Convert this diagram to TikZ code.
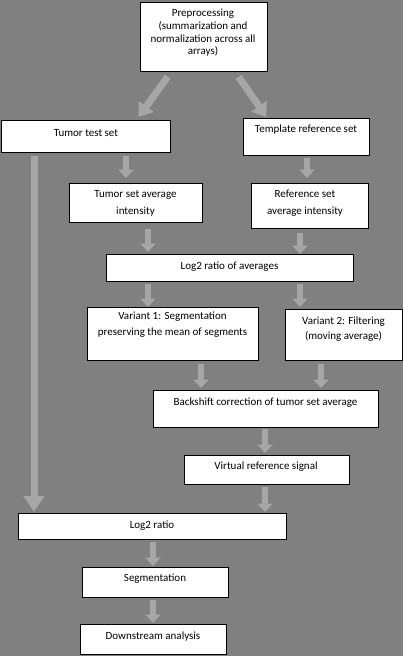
\documentclass[tikz,border=0pt]{standalone}
\usepackage{fontspec}
\setmainfont{Carlito}
\usetikzlibrary{arrows.meta}
\definecolor{bgc}{RGB}{128,128,128}
\definecolor{arrowc}{RGB}{166,166,166}
\begin{document}
\begin{tikzpicture}[x=1pt,y=-1pt,
 box/.style={draw=black, line width=0.8pt, fill=white, inner sep=0pt, anchor=north west},
 txt/.style={align=center, inner sep=0pt, font=\fontsize{11}{13}\selectfont},
 flow/.style={draw=arrowc, line width=6.5pt, -{Triangle[width=15pt,length=8.5pt]}},
 bigflow/.style={draw=arrowc, line width=7pt, -{Triangle[width=20pt,length=16pt]}},
 diagflow/.style={draw=arrowc, line width=7pt, -{Triangle[width=18pt,length=13pt]}}]
\fill[bgc] (0,0) rectangle (403,656);
\useasboundingbox (0,0) rectangle (403,656);
% boxes
\node[box, minimum width=126.5pt, minimum height=69pt] (pre) at (140,2) {};
\node[box, minimum width=169.5pt, minimum height=32pt] (tts) at (0.5,120) {};
\node[box, minimum width=126pt, minimum height=37pt] (tpl) at (243,118) {};
\node[box, minimum width=133pt, minimum height=39pt] (tavg) at (69,183) {};
\node[box, minimum width=117pt, minimum height=45pt] (ravg) at (251,183) {};
\node[box, minimum width=247pt, minimum height=27pt] (lavg) at (106,254) {};
\node[box, minimum width=171pt, minimum height=53pt] (vone) at (87,307) {};
\node[box, minimum width=117pt, minimum height=51pt] (vtwo) at (285,309) {};
\node[box, minimum width=225pt, minimum height=37pt] (back) at (153,390) {};
\node[box, minimum width=165pt, minimum height=29pt] (virt) at (184,455) {};
\node[box, minimum width=268pt, minimum height=26pt] (lr) at (18,513) {};
\node[box, minimum width=146pt, minimum height=30pt] (seg) at (82,567) {};
\node[box, minimum width=146pt, minimum height=30pt] (down) at (80,624) {};
% texts
\node[txt, font=\fontsize{11}{12.7}\selectfont] (preT) at (203,33) {Preprocessing\\(summarization and\\normalization across all\\arrays)};
\node[txt] (ttsT) at (86,133.5) {Tumor test set};
\node[txt] (tplT) at (306,130) {Template reference set};
\node[txt, font=\fontsize{11}{16.7}\selectfont] (tavgT) at (135.5,203.5) {Tumor set average\\intensity};
\node[txt, font=\fontsize{11}{17.5}\selectfont] (ravgT) at (305,203) {Reference set\\average intensity};
\node[txt] (lavgT) at (229.5,267) {Log2 ratio of averages};
\node[txt, font=\fontsize{11}{16}\selectfont] (voneT) at (172.5,325) {Variant 1: Segmentation\\preserving the mean of segments};
\node[txt, font=\fontsize{11}{15}\selectfont] (vtwoT) at (343.5,328.7) {Variant 2: Filtering\\(moving average)};
\node[txt] (backT) at (265.5,402.7) {Backshift correction of tumor set average};
\node[txt] (virtT) at (266,466.7) {Virtual reference signal};
\node[txt] (lrT) at (152,525.7) {Log2 ratio};
\node[txt] (segT) at (155,579) {Segmentation};
\node[txt] (downT) at (153,636.7) {Downstream analysis};
% arrow columns
\coordinate (cA) at (34,0);
\coordinate (cB) at (126,0);
\coordinate (cC) at (307,0);
\coordinate (cD) at (148,0);
\coordinate (cE) at (300,0);
\coordinate (cF) at (201,0);
\coordinate (cG) at (321,0);
\coordinate (cH) at (265,0);
\coordinate (cI) at (153,0);
% arrows
\draw[diagflow] ([xshift=-36pt,yshift=-5pt]pre.south) -- ([xshift=53pt,yshift=3pt]tts.north);
\draw[diagflow] ([xshift=35pt,yshift=-5pt]pre.south) -- ([xshift=-40pt,yshift=1pt]tpl.north);
\draw[bigflow, shorten <=3pt, shorten >=1pt] (tts.south -| cA) -- (lr.north -| cA);
\draw[flow, shorten <=3pt, shorten >=5pt] (tts.south -| cB) -- (tavg.north -| cB);
\draw[flow, shorten <=2pt, shorten >=5pt] (tpl.south -| cC) -- (ravg.north -| cC);
\draw[flow, shorten <=6pt, shorten >=2pt] (tavg.south -| cD) -- (lavg.north -| cD);
\draw[flow, shorten <=4pt, shorten >=0pt] (ravg.south -| cE) -- (lavg.north -| cE);
\draw[flow, shorten <=2pt, shorten >=0pt] (lavg.south -| cD) -- (vone.north -| cD);
\draw[flow, shorten <=2pt, shorten >=2pt] (lavg.south -| cE) -- (vtwo.north -| cE);
\draw[flow, shorten <=3pt, shorten >=2pt] (vone.south -| cF) -- (back.north -| cF);
\draw[flow, shorten <=3pt, shorten >=2pt] (vtwo.south -| cG) -- (back.north -| cG);
\draw[flow, shorten <=1pt, shorten >=2pt] (back.south -| cH) -- (virt.north -| cH);
\draw[flow, shorten <=2pt, shorten >=1pt] (virt.south -| cH) -- (lr.north -| cH);
\draw[flow, shorten <=2pt, shorten >=1pt] (lr.south -| cI) -- (seg.north -| cI);
\draw[flow, shorten <=2pt, shorten >=1pt] (seg.south -| cI) -- (down.north -| cI);
\end{tikzpicture}
\end{document}
